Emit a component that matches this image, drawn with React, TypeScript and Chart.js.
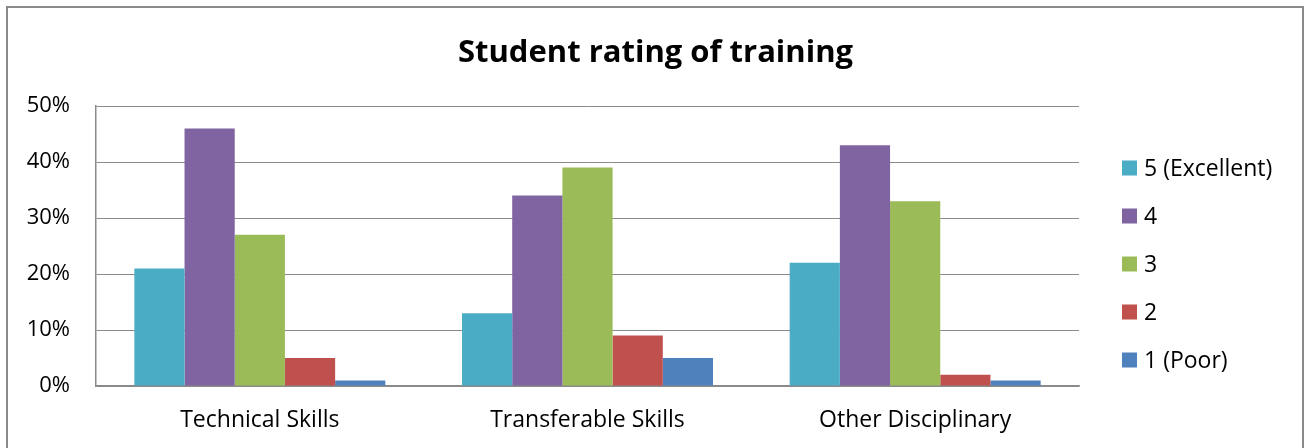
import React, { useEffect, useRef } from "react";
import { Chart, registerables } from "chart.js";

Chart.register(...registerables);

const categories = ["Technical Skills", "Transferable Skills", "Other Disciplinary"];
const seriesLabels = ["5 (Excellent)", "4", "3", "2", "1 (Poor)"];
const excellent = [21, 13, 22];
const four = [46, 34, 43];
const three = [27, 39, 33];
const two = [5, 9, 2];
const poor = [1, 5, 1];
const seriesColors = ["#4BACC6", "#8064A2", "#9BBB59", "#C0504D", "#4F81BD"];
const yTicks = [0, 10, 20, 30, 40, 50];

const FONT = "'Open Sans', Lato, sans-serif";
const LABEL_SIZE = 23;

const framePlugin = {
  id: "frame",
  afterDraw(chart: any) {
    const ctx = chart.ctx;
    ctx.save();
    ctx.strokeStyle = "#8a8a8a";
    ctx.lineWidth = 2;
    ctx.strokeRect(7, 7, 1296, 460);
    ctx.restore();
  },
};

const legendPlugin = {
  id: "sideLegend",
  afterDraw(chart: any) {
    const ctx = chart.ctx;
    ctx.save();
    ctx.font = `${LABEL_SIZE}px ${FONT}`;
    ctx.textBaseline = "middle";
    ctx.textAlign = "left";
    chart.data.datasets.forEach((ds: any, i: number) => {
      const cy = 168 + i * 48;
      ctx.fillStyle = ds.backgroundColor;
      ctx.fillRect(1122, cy - 7.5, 15, 15);
      ctx.fillStyle = "#000";
      ctx.fillText(ds.label, 1144, cy + 1.5);
    });
    ctx.restore();
  },
};

export default function App() {
  const ref = useRef<HTMLCanvasElement>(null);
  useEffect(() => {
    const values = [excellent, four, three, two, poor];
    const chart = new Chart(ref.current!, {
      type: "bar",
      data: {
        labels: categories,
        datasets: seriesLabels.map((label, i) => ({
          label,
          data: values[i],
          backgroundColor: seriesColors[i],
          borderWidth: 0,
          barPercentage: 1,
          categoryPercentage: 0.766,
          yAxisID: "y",
        })),
      },
      options: {
        animation: false,
        responsive: false,
        maintainAspectRatio: false,
        layout: { padding: { left: 0, right: 0, top: 0, bottom: 0 } },
        plugins: {
          legend: { display: false },
          tooltip: { enabled: false },
          title: {
            display: true,
            text: "Student rating of training",
            color: "#000",
            font: { family: FONT, size: 31, weight: "bold", lineHeight: 1.2 },
            padding: { top: 35, bottom: 33.8 },
          },
        },
        scales: {
          x: {
            grid: { display: false, drawTicks: false },
            border: { display: true, color: "#8a8a8a", width: 1.5 },
            ticks: { color: "#000", font: { family: FONT, size: LABEL_SIZE }, padding: 21 },
            afterFit(axis: any) {
              axis.height = 62;
            },
          },
          y: {
            min: 0,
            max: 50,
            afterBuildTicks(axis: any) {
              axis.ticks = yTicks.map((v) => ({ value: v }));
            },
            afterFit(axis: any) {
              axis.width = 96;
            },
            grid: { color: "#8a8a8a", lineWidth: 1, drawTicks: false },
            border: { display: true, color: "#8a8a8a", width: 1.5 },
            ticks: {
              color: "#000",
              font: { family: FONT, size: 22 },
              padding: 26,
              callback: (v: any) => `${v}%`,
            },
          },
          legendSpace: {
            type: "linear",
            position: "right",
            display: true,
            grid: { display: false, drawTicks: false },
            border: { display: false },
            ticks: { display: false },
            afterFit(axis: any) {
              axis.width = 232;
            },
          },
        },
      },
      plugins: [framePlugin, legendPlugin],
    });
    return () => chart.destroy();
  }, []);
  return (
    <div style={{ position: "absolute", left: 0, top: 0, width: 1311, height: 448, background: "#fff" }}>
      <canvas ref={ref} width={1311} height={448} style={{ display: "block" }} />
    </div>
  );
}
